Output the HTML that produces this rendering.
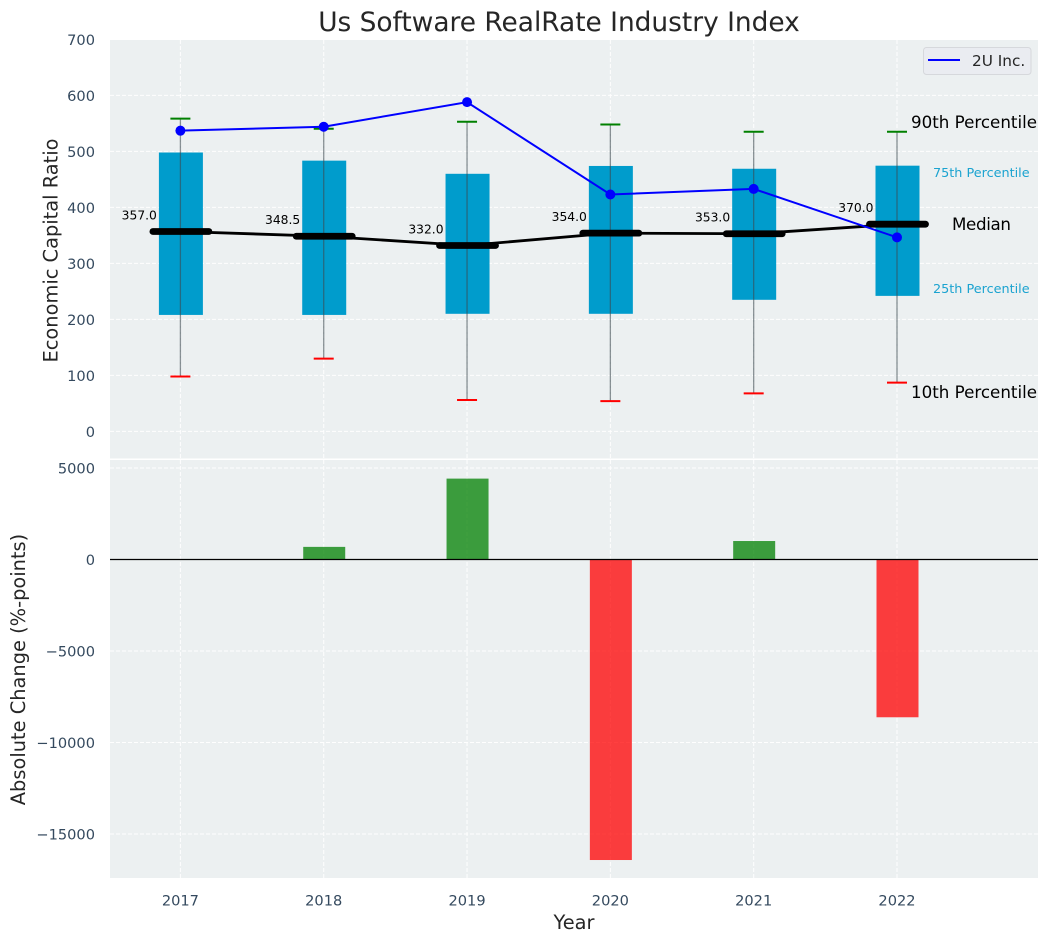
<!DOCTYPE html>
<html lang="en">
<head>
<meta charset="utf-8">
<title>Us Software RealRate Industry Index</title>
<style>
html,body{margin:0;padding:0;background:#fff;}
body{width:1048px;height:942px;overflow:hidden;}
svg{display:block;font-family:"DejaVu Sans","Liberation Sans",sans-serif;}
</style>
</head>
<body>
<svg id="chart" width="1048" height="942" viewBox="0 0 1048 942" xmlns="http://www.w3.org/2000/svg">
  <rect x="110" y="40" width="928" height="418.5" fill="#ecf0f1"/>
  <rect x="110" y="460" width="928" height="418" fill="#ecf0f1"/>
  <g id="grid"></g>
  <g id="top"></g>
  <g id="bottom"></g>
  <g id="ticks"></g>
  <text x="559" y="31" text-anchor="middle" font-size="26.4" fill="#262626">Us Software RealRate Industry Index</text>
  <text transform="translate(57.5 250.5) rotate(-90)" text-anchor="middle" font-size="19.4" fill="#262626">Economic Capital Ratio</text>
  <text transform="translate(25 669.5) rotate(-90)" text-anchor="middle" font-size="19.4" fill="#262626">Absolute Change (%-points)</text>
  <text x="574" y="929" text-anchor="middle" font-size="19.4" fill="#262626">Year</text>
  <text x="911" y="128" font-size="16.7" fill="#000">90th Percentile</text>
  <text x="933" y="177" font-size="12.8" fill="#1ba3d0">75th Percentile</text>
  <text x="952" y="230" font-size="16.7" fill="#000" textLength="59">Median</text>
  <text x="933" y="293" font-size="12.8" fill="#1ba3d0">25th Percentile</text>
  <text x="911" y="398" font-size="16.7" fill="#000">10th Percentile</text>
  <g>
    <rect x="923.5" y="47.5" width="107.5" height="27" rx="3" fill="#eaecf1" stroke="#d6d8dc" stroke-width="1"/>
    <line x1="928" y1="60" x2="960" y2="60" stroke="#0000ff" stroke-width="2"/>
    <text x="972" y="66" font-size="15.3" fill="#262626">2U Inc.</text>
  </g>
</svg>
<script>
const years = [2017, 2018, 2019, 2020, 2021, 2022];
const p10 = [98, 130, 56, 54, 68, 87];
const p25 = [208, 208, 210, 210, 235, 242];
const medians = [357.0, 348.5, 332.0, 354.0, 353.0, 370.0];
const p75 = [498, 483.5, 460, 474, 469, 474.5];
const p90 = [558.5, 540.5, 553, 548, 535, 535];
const company = [537, 544, 588, 423, 433, 346.5];
const changes = [0, 690, 4420, -16420, 1010, -8620];
const topTicks = [0, 100, 200, 300, 400, 500, 600, 700];
const bottomTicks = [5000, 0, -5000, -10000, -15000];
const bottomTickLabels = ['5000', '0', '\u22125000', '\u221210000', '\u221215000'];

const NS = 'http://www.w3.org/2000/svg';
const X = i => 180.4 + i * 143.32;
const Y = v => 431.4 - v * 0.56;
const B = v => 559.5 - v * 0.018302;

function make(parent, tag, props, text) {
  const el = document.createElementNS(NS, tag);
  for (const k in props) el.setAttribute(k, props[k]);
  if (text !== undefined) el.textContent = text;
  parent.appendChild(el);
  return el;
}
const grid = document.getElementById('grid');
const top_ = document.getElementById('top');
const bottom = document.getElementById('bottom');
const ticks = document.getElementById('ticks');
const gridStyle = {stroke: '#ffffff', 'stroke-width': 1, 'stroke-dasharray': '4 2', opacity: 0.95};

topTicks.forEach(t => {
  const g = make(grid, 'line', Object.assign({x1: 110, x2: 1038, y1: Y(t), y2: Y(t)}, gridStyle));
  
  
  const l = make(ticks, 'text', {x: 95, y: Y(t) + 5.5, 'text-anchor': 'end', 'font-size': 14.6, fill: '#34495e'}, String(t));
  
  
});
bottomTicks.forEach((t, i) => {
  const g = make(grid, 'line', Object.assign({x1: 110, x2: 1038, y1: B(t), y2: B(t)}, gridStyle));
  
  
  const l = make(ticks, 'text', {x: 95, y: B(t) + 5.5, 'text-anchor': 'end', 'font-size': 14.6, fill: '#34495e'}, bottomTickLabels[i]);
  
  
});
years.forEach((yr, i) => {
  const g1 = make(grid, 'line', Object.assign({x1: X(i), x2: X(i), y1: 40, y2: 458.5}, gridStyle));
  
  
  const g2 = make(grid, 'line', Object.assign({x1: X(i), x2: X(i), y1: 460, y2: 878}, gridStyle));
  
  
  const l = make(ticks, 'text', {x: X(i), y: 905.5, 'text-anchor': 'middle', 'font-size': 14.6, fill: '#34495e'}, String(yr));
  
  
});

/* boxes */
years.forEach((yr, i) => {
  const box = make(top_, 'rect', {x: X(i) - 21.5, y: Y(p75[i]), width: 44, height: Y(p25[i]) - Y(p75[i]), fill: '#009ccc'});
  
  
});
/* median connector */
const medLine = make(top_, 'polyline', {points: medians.map((v, i) => X(i) + ',' + Y(v)).join(' '), fill: 'none', stroke: '#000', 'stroke-width': 2.8});


/* whiskers, caps, medians */
years.forEach((yr, i) => {
  const w = make(top_, 'line', {x1: X(i), x2: X(i), y1: Y(p90[i]), y2: Y(p10[i]), stroke: '#3c4a50', 'stroke-opacity': 0.6, 'stroke-width': 1.3});
  
  
  const hi = make(top_, 'line', {x1: X(i) - 10, x2: X(i) + 10, y1: Y(p90[i]), y2: Y(p90[i]), stroke: '#008000', 'stroke-width': 2});
  
  
  const lo = make(top_, 'line', {x1: X(i) - 10, x2: X(i) + 10, y1: Y(p10[i]), y2: Y(p10[i]), stroke: '#ff0000', 'stroke-width': 2});
  
  
  const m = make(top_, 'line', {x1: X(i) - 27.5, x2: X(i) + 28.5, y1: Y(medians[i]), y2: Y(medians[i]), stroke: '#000', 'stroke-width': 6.8, 'stroke-linecap': 'round'});
  
  
  const t = make(top_, 'text', {x: X(i) - 23.5, y: Y(medians[i]) - 12, 'text-anchor': 'end', 'font-size': 12.3, fill: '#000'}, medians[i].toFixed(1));
  
  
});
/* company line */
const compLine = make(top_, 'polyline', {points: company.map((v, i) => X(i) + ',' + Y(v)).join(' '), fill: 'none', stroke: '#0000ff', 'stroke-width': 2});


company.forEach((v, i) => {
  const c = make(top_, 'circle', {cx: X(i), cy: Y(v), r: 5, fill: '#0000ff'});
  
  
});
/* change bars */
changes.forEach((v, i) => {
  if (v === 0) return;
  const y0 = Math.min(B(v), B(0));
  const r = make(bottom, 'rect', {x: X(i) - 20.5, y: y0, width: 42, height: Math.abs(B(v) - B(0)), fill: v >= 0 ? '#008000' : '#ff0000', 'fill-opacity': 0.75});
  
  
});
const zero = make(bottom, 'line', {x1: 110, x2: 1038, y1: B(0), y2: B(0), stroke: '#000', 'stroke-width': 1.3});


</script>
</body>
</html>
